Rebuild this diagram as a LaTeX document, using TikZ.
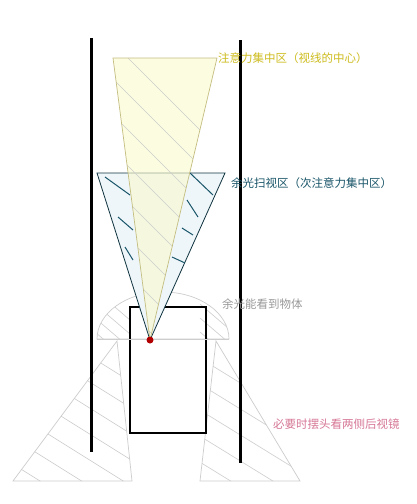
\documentclass[tikz,border=0pt]{standalone}
\usepackage{fontspec}
\setmainfont{Noto Sans CJK SC}
\usetikzlibrary{positioning}
\definecolor{focusyellow}{RGB}{205,188,30}
\definecolor{focusfill}{RGB}{250,250,205}
\definecolor{scanteal}{RGB}{25,85,105}
\definecolor{scanfill}{RGB}{238,246,250}
\definecolor{sidegrey}{RGB}{205,205,205}
\definecolor{mirrorpink}{RGB}{215,120,150}
\tikzset{
  wall/.style={line width=3pt, color=black},
  hatchline/.style={line width=0.6pt, color=sidegrey},
  label/.style={anchor=west, inner sep=0pt, font=\fontsize{11.5}{13}\selectfont},
}

\begin{document}
\begin{tikzpicture}[x=1pt, y=-1pt]
\useasboundingbox [fill=white] (0,0) rectangle (417,504);

\coordinate (eye) at (150,340);

\draw [line width=0.7pt, color=sidegrey, fill=white] (117,341) -- (13,481) -- (132,481) -- cycle;
\draw [line width=0.7pt, color=sidegrey, fill=white] (216,341) -- (300,481) -- (200,481) -- cycle;
\begin{scope}
\clip (117,341) -- (13,481) -- (132,481) -- cycle;
\foreach \s in {0,26,...,156} \draw [hatchline] (0,300+\s) -- (160,400+\s);
\end{scope}
\begin{scope}
\clip (216,341) -- (300,481) -- (200,481) -- cycle;
\foreach \s in {0,26,...,156} \draw [hatchline] (190,300+\s) -- (320,380+\s);
\end{scope}

\draw [line width=0.7pt, color=sidegrey, fill=white] (97,339) arc[start angle=180, end angle=0, x radius=66pt, y radius=47pt] -- cycle;
\begin{scope}
\clip (97,339) arc[start angle=180, end angle=0, x radius=66pt, y radius=47pt] -- cycle;
\foreach \s in {0,14,...,42} \draw [hatchline] (95,290+\s) -- (130,320+\s);
\foreach \s in {0,14,...,42} \draw [hatchline] (200,290+\s) -- (235,320+\s);
\end{scope}

\draw [wall] (91,38) -- (91,452);
\draw [wall] (240,40) -- (240,463);
\draw [line width=1.6pt] (130,307) rectangle (206,433);

\draw [line width=0.8pt, color=scanteal!60!black, fill=scanfill] (eye) -- (97,173) -- (225,173) -- cycle;
\draw [line width=1pt, color=scanteal] (105,177) -- (130,195);
\draw [line width=1pt, color=scanteal] (118,217) -- (133,230);
\draw [line width=1pt, color=scanteal] (125,247) -- (133,260);
\draw [line width=1pt, color=scanteal] (190,173) -- (213,195);
\draw [line width=1pt, color=scanteal] (187,200) -- (198,217);
\draw [line width=1pt, color=scanteal] (182,228) -- (193,235);
\draw [line width=1pt, color=scanteal] (172,257) -- (185,263);

\fill [color=focusfill, opacity=0.6] (eye) -- (113,58) -- (217,58) -- cycle;
\begin{scope}
\clip (eye) -- (113,58) -- (217,58) -- cycle;
\foreach \s in {0,36,...,252} \draw [hatchline] (100,30+\s) -- (260,190+\s);
\end{scope}
\draw [line width=0.7pt, color=focusyellow!55!gray!70] (eye) -- (113,58) -- (217,58) -- cycle;

\draw [line width=0.7pt, color=sidegrey] (97,339) -- (229,339);
\node [circle, fill=red!70!black, inner sep=0pt, minimum size=7pt] (eyedot) at (eye) {};

\node [label, color=focusyellow] (focuslabel) at (218,58) {注意力集中区（视线的中心）};
\node [label, color=scanteal] (scanlabel) at (231,183) {余光扫视区（次注意力集中区）};
\node [label, color=gray!80] (seelabel) at (222,304) {余光能看到物体};
\node [label, color=mirrorpink] (mirrorlabel) at (273,424) {必要时摆头看两侧后视镜};

\end{tikzpicture}
\end{document}
